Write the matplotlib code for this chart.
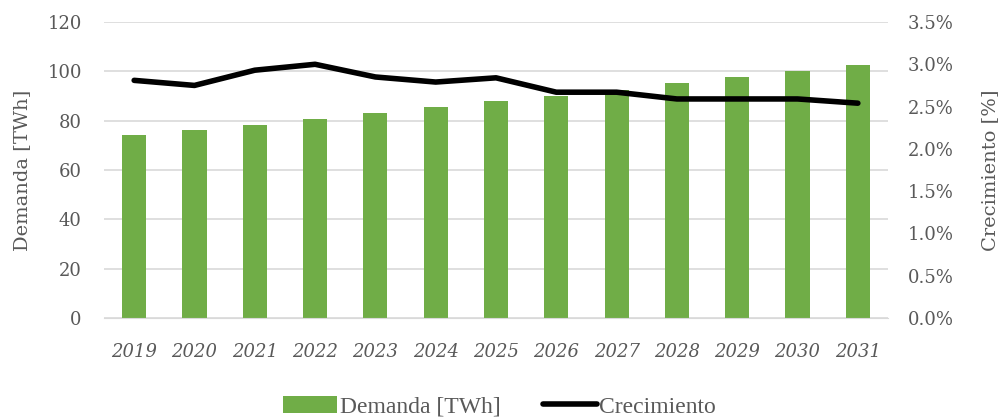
import matplotlib
matplotlib.use("Agg")
import matplotlib.pyplot as plt
from matplotlib.ticker import FuncFormatter

years = ["2019", "2020", "2021", "2022", "2023", "2024", "2025",
         "2026", "2027", "2028", "2029", "2030", "2031"]
demanda = [74.2, 76.2, 78.2, 80.7, 83.0, 85.5, 88.0,
           90.0, 92.4, 95.2, 97.7, 100.0, 102.5]
crecimiento = [2.81, 2.75, 2.93, 3.00, 2.85, 2.79, 2.84,
               2.67, 2.67, 2.59, 2.59, 2.59, 2.54]

green = "#70AD47"
grey = "#595959"
grid = "#D9D9D9"

plt.rcParams["font.family"] = ["DejaVu Serif"]

fig = plt.figure(figsize=(9.99, 4.2), dpi=100)
ax = fig.add_axes([104 / 999, 1 - 318 / 420, 784 / 999, 296 / 420])
ax2 = ax.twinx()

x = list(range(len(years)))
bars = ax.bar(x, demanda, width=0.4, color=green, label="Demanda [TWh]", zorder=2)
line, = ax2.plot(x, crecimiento, color="black", lw=4, solid_capstyle="round",
                 label="Crecimiento", zorder=3)

ax.set_xlim(-0.5, len(years) - 0.5)
ax.set_ylim(0, 120)
ax.set_yticks(range(0, 121, 20))
ax2.set_ylim(0, 3.5)
ax2.set_yticks([i * 0.5 for i in range(8)])
ax2.yaxis.set_major_formatter(FuncFormatter(lambda v, p: f"{v:.1f}%"))

ax.yaxis.grid(True, color=grid, lw=1.2, zorder=0)
ax.set_axisbelow(True)
for a in (ax, ax2):
    for s in a.spines.values():
        s.set_visible(False)
    a.tick_params(length=0, colors=grey, labelsize=13)
ax.spines["bottom"].set_visible(True)
ax.spines["bottom"].set_color(grid)

ax.set_xticks(x)
ax.set_xticklabels(years, fontstyle="italic", fontsize=13, color=grey)
ax.tick_params(axis="x", pad=18)
ax.tick_params(axis="y", pad=16)
ax2.tick_params(axis="y", pad=14)

ax.set_ylabel("Demanda [TWh]", fontsize=14, color=grey, labelpad=12)
ax2.set_ylabel("Crecimiento [%]", fontsize=14, color=grey, labelpad=20)

fig.legend([bars, line], ["Demanda [TWh]", "Crecimiento"], loc="lower center",
           bbox_to_anchor=(0.5, -0.045), ncol=2, frameon=False,
           prop={"family": "Liberation Serif", "size": 17},
           labelcolor=grey, handlelength=2.3, columnspacing=1.8, handletextpad=0.1)

fig.savefig("out.png", dpi=100)
